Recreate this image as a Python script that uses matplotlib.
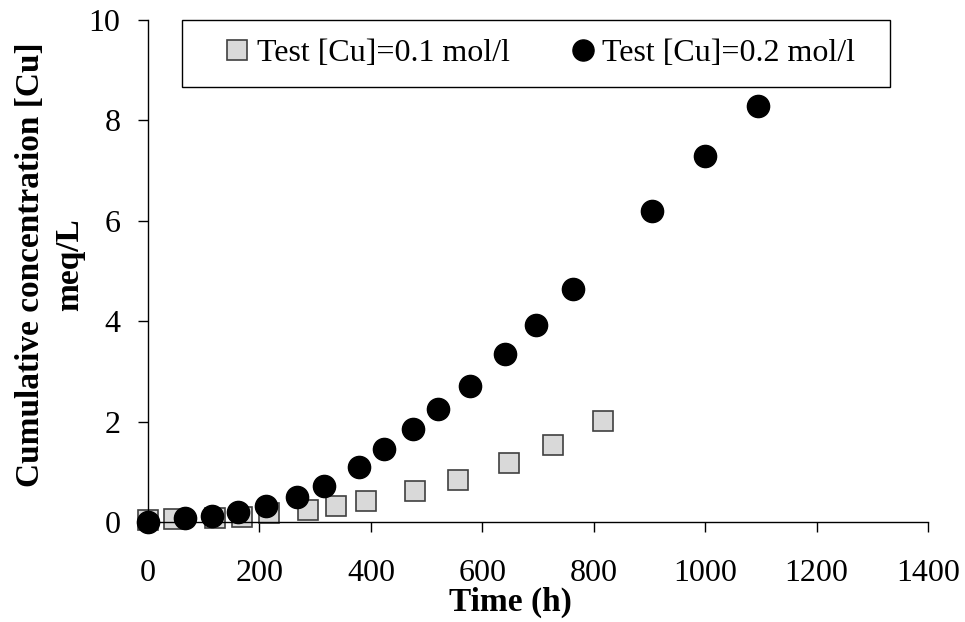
import matplotlib
matplotlib.use("Agg")
from matplotlib import pyplot as plt
from matplotlib.patches import Rectangle

# Test [Cu]=0.1 mol/l
time_01 = [0, 47, 120, 168, 218, 288, 338, 391, 479, 557, 647, 726, 817]
conc_01 = [0.03, 0.05, 0.07, 0.10, 0.17, 0.24, 0.32, 0.42, 0.62, 0.84, 1.17, 1.53, 2.01]

# Test [Cu]=0.2 mol/l
time_02 = [0, 66, 114, 162, 211, 267, 315, 379, 424, 475, 521, 577, 641, 696, 762, 904, 999, 1094]
conc_02 = [0.0, 0.07, 0.12, 0.20, 0.32, 0.50, 0.72, 1.10, 1.45, 1.85, 2.25, 2.71, 3.34, 3.92, 4.65, 6.2, 7.3, 8.29]

x_ticks = [0, 200, 400, 600, 800, 1000, 1200, 1400]
y_ticks = [0, 2, 4, 6, 8, 10]

plt.rcParams['font.family'] = ['Liberation Serif', 'DejaVu Serif']
fs = 23

fig = plt.figure(figsize=(9.65, 6.22), dpi=100)
ax = fig.add_axes([0.1534, 0.1608, 0.8083, 0.807])

ax.plot(time_01, conc_01, linestyle='none', marker='s', markersize=15,
        markerfacecolor='#d9d9d9', markeredgecolor='#404040', markeredgewidth=1.2,
        label='Test [Cu]=0.1 mol/l', clip_on=False)
ax.plot(time_02, conc_02, linestyle='none', marker='o', markersize=16,
        markerfacecolor='black', markeredgecolor='black',
        label='Test [Cu]=0.2 mol/l', clip_on=False)

ax.set_xlim(0, 1400)
ax.set_ylim(0, 10)
ax.set_xticks(x_ticks)
ax.set_yticks(y_ticks)
ax.tick_params(axis='both', direction='out', length=7, width=1, labelsize=fs, colors='black')
ax.tick_params(axis='x', pad=20)
ax.tick_params(axis='y', pad=13)

for side in ['top', 'right']:
    ax.spines[side].set_visible(False)
for side in ['left', 'bottom']:
    ax.spines[side].set_linewidth(1)
    ax.spines[side].set_color('black')

ax.set_xlabel('Time (h)', fontsize=24, fontweight='bold', labelpad=-1)
ax.xaxis.label.set_x(0.464)
ax.set_ylabel('Cumulative concentration [Cu]\nmeq/L', fontsize=24, fontweight='bold',
              labelpad=2, linespacing=1.35)
ax.yaxis.label.set_y(0.512)

# legend box (Excel style, wider than its contents)
ax.add_patch(Rectangle((0.0436, 0.8665), 0.9077, 0.1335, transform=ax.transAxes,
                       fill=True, facecolor='white', edgecolor='black', linewidth=1,
                       clip_on=False, zorder=4))
leg = ax.legend(loc='center left', bbox_to_anchor=(0.0983, 0.933),
                ncol=2, fontsize=fs, frameon=False,
                borderaxespad=0, borderpad=0, handletextpad=0.2, handlelength=0.8,
                markerscale=0.95, columnspacing=1.9)
leg.set_zorder(5)

fig.savefig('out.png', dpi=100)
